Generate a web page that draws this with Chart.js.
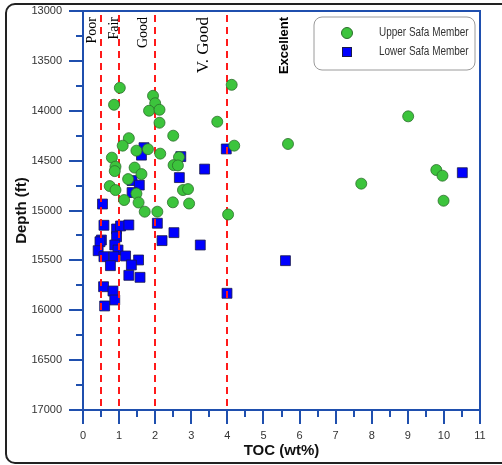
<!DOCTYPE html>
<html>
<head>
<meta charset="utf-8">
<script src="https://cdn.jsdelivr.net/npm/chart.js@4.4.1/dist/chart.umd.min.js"></script>
<style>
  html, body { margin: 0; padding: 0; background: #fff; }
  #wrap { width: 502px; height: 465px; }
</style>
</head>
<body>
<div id="wrap"><canvas id="chart" width="502" height="465"></canvas></div>
<script>
// TOC (wt%) and depth (ft)
const upperToc = [1.02, 0.86, 1.94, 2.0, 1.83, 2.12, 2.12, 4.12, 3.72, 1.27, 1.10, 2.50, 4.19,
  0.80, 0.90, 0.88, 1.43, 1.62, 1.48, 1.80, 2.14, 2.66, 2.51, 2.63, 0.74, 0.90, 1.25, 1.48,
  1.14, 1.54, 1.71, 2.06, 2.77, 2.91, 2.49, 2.94, 4.02, 5.68, 9.01, 9.79, 9.96, 7.71, 9.99];
const upperDepth = [13770, 13940, 13850, 13925, 14000, 13990, 14120, 13740, 14110, 14275, 14350, 14250, 14350,
  14470, 14560, 14605, 14570, 14635, 14400, 14385, 14430, 14465, 14545, 14548, 14755, 14795, 14685, 14830,
  14895, 14920, 15012, 15012, 14795, 14785, 14918, 14930, 15040, 14333, 14056, 14594, 14651, 14731, 14902];

const lowerToc = [1.69, 1.62, 2.71, 3.37, 2.67, 3.97, 1.36, 1.56, 1.36, 0.54, 0.58, 0.93, 1.04,
  1.27, 2.06, 2.52, 2.19, 3.25, 0.51, 0.47, 0.93, 0.88, 0.42, 0.97, 0.58, 0.86, 1.18, 1.54,
  0.76, 1.34, 1.27, 1.58, 0.57, 0.83, 0.88, 0.60, 3.99, 5.61, 10.51];
const lowerDepth = [14370, 14445, 14460, 14585, 14670, 14383, 14700, 14745, 14820, 14935, 15148, 15185, 15155,
  15145, 15128, 15222, 15302, 15346, 15296, 15313, 15263, 15346, 15403, 15396, 15463, 15463, 15456, 15496,
  15553, 15546, 15650, 15670, 15764, 15807, 15897, 15957, 15830, 15503, 14621];

// TOC cut-offs and the class names written next to them
const cutoffs = [0.5, 1, 2, 4];
const classNames = ['Poor', 'Fair', 'Good', 'V. Good', 'Excellent'];
const classAt = [0.27, 0.88, 1.68, 3.34, 5.58];

const seriesNames = ['Upper Safa Member', 'Lower Safa Member'];

const axisBlue = '#1f4fae';
const green = '#3cc43c';
const blue = '#0000ff';

const toPoints = (xs, ys) => xs.map((x, i) => ({ x: x, y: ys[i] }));

const decor = {
  id: 'decor',
  beforeDraw(chart) {
    const ctx = chart.ctx;
    ctx.save();
    ctx.fillStyle = '#fff';
    ctx.fillRect(0, 0, chart.width, chart.height);
    ctx.restore();
  },
  // dashed cut-off lines go over the squares but under the circles
  beforeDatasetDraw(chart, args) {
    if (args.index !== 0) return;
    const { ctx, chartArea: a, scales: { x } } = chart;
    ctx.save();
    ctx.strokeStyle = '#ff1a1a';
    ctx.lineWidth = 2;
    ctx.setLineDash([7, 5]);
    cutoffs.forEach(c => {
      const px = Math.round(x.getPixelForValue(c));
      ctx.beginPath();
      ctx.moveTo(px, a.top + 4);
      ctx.lineTo(px, a.bottom);
      ctx.stroke();
    });
    ctx.restore();
  },
  afterDraw(chart) {
    const { ctx, chartArea: a, scales: { x, y } } = chart;
    ctx.save();

    // top and right side of the box
    ctx.strokeStyle = axisBlue;
    ctx.lineWidth = 2;
    ctx.beginPath();
    ctx.moveTo(a.left, a.top);
    ctx.lineTo(a.right, a.top);
    ctx.lineTo(a.right, a.bottom);
    ctx.stroke();

    // tick marks, major and minor
    ctx.lineWidth = 2;
    for (let v = 0; v <= 11; v += 0.5) {
      const px = Math.round(x.getPixelForValue(v));
      const len = Number.isInteger(v) ? 14 : 7;
      ctx.beginPath();
      ctx.moveTo(px, a.bottom);
      ctx.lineTo(px, a.bottom + len);
      ctx.stroke();
    }
    for (let v = 13000; v <= 17000; v += 250) {
      const py = Math.round(y.getPixelForValue(v));
      const len = v % 500 === 0 ? 14 : 7;
      ctx.beginPath();
      ctx.moveTo(a.left, py);
      ctx.lineTo(a.left - len, py);
      ctx.stroke();
    }

    // axis titles
    ctx.fillStyle = '#111';
    ctx.font = 'bold 15px "Liberation Sans", Arial, sans-serif';
    ctx.textAlign = 'center';
    ctx.textBaseline = 'middle';
    ctx.fillText('TOC (wt%)', (a.left + a.right) / 2, 451);
    ctx.save();
    ctx.translate(22, (a.top + a.bottom) / 2);
    ctx.rotate(-Math.PI / 2);
    ctx.fillText('Depth (ft)', 0, 0);
    ctx.restore();

    // class names, rotated
    const fonts = ['14px "Liberation Serif", serif', '14px "Liberation Serif", serif',
      '14px "Liberation Serif", serif', '17px "Liberation Serif", serif',
      'bold 13px "Liberation Sans", Arial, sans-serif'];
    classNames.forEach((name, i) => {
      ctx.save();
      ctx.translate(x.getPixelForValue(classAt[i]), a.top + 6);
      ctx.rotate(-Math.PI / 2);
      ctx.font = fonts[i];
      ctx.fillStyle = '#000';
      ctx.textAlign = 'right';
      ctx.textBaseline = 'middle';
      ctx.fillText(name, 0, 0);
      ctx.restore();
    });

    // legend box
    const lx = 314, ly = 17, lw = 161, lh = 53;
    ctx.beginPath();
    ctx.roundRect(lx, ly, lw, lh, 8);
    ctx.fillStyle = '#fff';
    ctx.fill();
    ctx.strokeStyle = '#9a9a9a';
    ctx.lineWidth = 1;
    ctx.stroke();

    ctx.beginPath();
    ctx.arc(347, 33, 5.5, 0, Math.PI * 2);
    ctx.fillStyle = green;
    ctx.fill();
    ctx.strokeStyle = '#2c6e2c';
    ctx.stroke();
    ctx.fillStyle = blue;
    ctx.fillRect(342, 47, 10, 10);
    ctx.strokeStyle = '#1a1a4a';
    ctx.strokeRect(342.5, 47.5, 9, 9);

    // narrow legend text
    ctx.fillStyle = '#333';
    ctx.font = '12px "Liberation Sans", Arial, sans-serif';
    ctx.textAlign = 'left';
    ctx.textBaseline = 'middle';
    ctx.save();
    ctx.translate(379, 0);
    ctx.scale(0.83, 1);
    ctx.fillText(seriesNames[0], 0, 33);
    ctx.fillText(seriesNames[1], 0, 52);
    ctx.restore();

    // outer rounded frame, cut off on the right
    ctx.beginPath();
    ctx.roundRect(6, 4, 510, 459, 9);
    ctx.strokeStyle = '#222';
    ctx.lineWidth = 2;
    ctx.stroke();

    ctx.restore();
  }
};

new Chart(document.getElementById('chart'), {
  type: 'scatter',
  data: {
    datasets: [
      {
        label: seriesNames[0],
        data: toPoints(upperToc, upperDepth),
        pointStyle: 'circle',
        pointRadius: 5.5,
        backgroundColor: green,
        borderColor: '#2c6e2c',
        borderWidth: 0.8,
      },
      {
        label: seriesNames[1],
        data: toPoints(lowerToc, lowerDepth),
        pointStyle: 'rect',
        pointRadius: 7,
        backgroundColor: blue,
        borderColor: '#1a1a4a',
        borderWidth: 0.8,
      },
    ],
  },
  options: {
    responsive: false,
    animation: false,
    layout: { padding: { left: 8, right: 22, top: 11, bottom: 4 } },
    plugins: {
      legend: { display: false },
      tooltip: { enabled: false },
    },
    scales: {
      x: {
        type: 'linear',
        min: 0,
        max: 11,
        afterFit: s => { s.height = 51; s.paddingLeft = 0; s.paddingRight = 0; },
        grid: { drawOnChartArea: false, drawTicks: false },
        border: { display: true, color: axisBlue, width: 2 },
        ticks: {
          stepSize: 1,
          padding: 19,
          color: '#333',
          font: { family: '"Liberation Sans", Arial, sans-serif', size: 11 },
        },
      },
      y: {
        type: 'linear',
        reverse: true,
        min: 13000,
        max: 17000,
        afterFit: s => { s.width = 75; s.paddingTop = 0; s.paddingBottom = 0; },
        grid: { drawOnChartArea: false, drawTicks: false },
        border: { display: true, color: axisBlue, width: 2 },
        ticks: {
          stepSize: 500,
          padding: 21,
          color: '#333',
          font: { family: '"Liberation Sans", Arial, sans-serif', size: 11 },
          callback: v => String(v),
        },
      },
    },
  },
  plugins: [decor],
});
</script>
</body>
</html>
